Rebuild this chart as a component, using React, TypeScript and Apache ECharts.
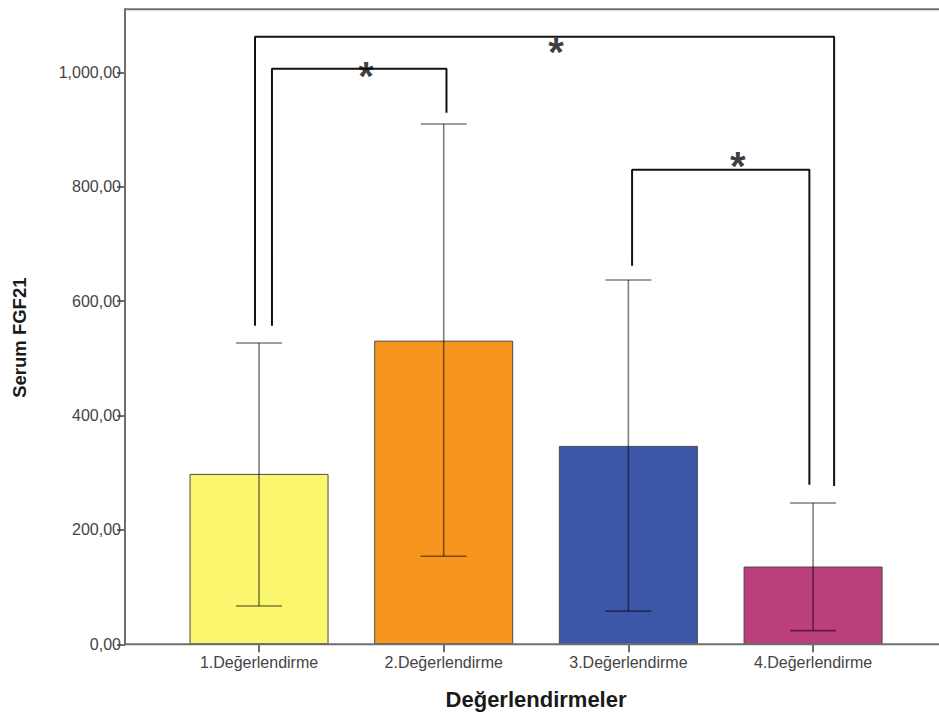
import React, { useEffect, useRef } from "react";
import * as echarts from "echarts";

const categories = ["1.Değerlendirme", "2.Değerlendirme", "3.Değerlendirme", "4.Değerlendirme"];
const means = [298, 531, 347, 136];
const errLow = [67, 154, 58, 24];
const errHigh = [527, 910, 637, 247];
const barColors = ["#FAF76E", "#F7961F", "#3C57A8", "#BB3F7A"];
const yMax = 1111;
const yInterval = 200;

// significance brackets: [x (category index units), y (value)]
const bracketOuter = [[-0.022, 557], [-0.022, 1062.6], [3.114, 1062.6], [3.114, 277]];
const bracket12 = [[0.07, 557], [0.07, 1006.6], [1.015, 1006.6], [1.015, 929.6]];
const bracket34 = [[2.02, 662], [2.02, 829.8], [2.98, 829.8], [2.98, 279]];
const stars = [[0.579, 1008], [1.608, 1050], [2.593, 851]];

const fmtY = (v: number) => {
  const s = v.toFixed(2).replace(".", ",");
  const [int, dec] = s.split(",");
  const withSep = int.replace(/\B(?=(\d{3})+(?!\d))/g, ",");
  return withSep + "," + dec;
};

export default function App() {
  const ref = useRef<HTMLDivElement>(null);
  useEffect(() => {
    if (!ref.current) return;
    const chart = echarts.init(ref.current, null, { renderer: "svg" });
    const font = "Liberation Sans, Arial, sans-serif";
    const axisColor = "#6e6e6e";
    const bracketStyle = { color: "#111", width: 2 };
    const mkBracket = (d: number[][]) => ({
      type: "line",
      xAxisIndex: 1,
      yAxisIndex: 0,
      data: d,
      symbol: "none",
      lineStyle: bracketStyle,
      silent: true,
      z: 5,
    });
    chart.setOption({
      animation: false,
      backgroundColor: "#ffffff",
      grid: { left: 166.7, width: 738.7, top: 9, bottom: 72.7, containLabel: false },
      graphic: [
        { type: "line", shape: { x1: 125, y1: 9.3, x2: 939, y2: 9.3 }, style: { stroke: axisColor, lineWidth: 2 }, z: 10 },
        { type: "line", shape: { x1: 125, y1: 644.3, x2: 939, y2: 644.3 }, style: { stroke: axisColor, lineWidth: 2 }, z: 10 },
      ],
      xAxis: [
        {
          type: "category",
          data: categories,
          axisLine: { show: false, onZero: false },
          axisTick: { show: true, alignWithLabel: true, length: 8, lineStyle: { color: axisColor, width: 2 } },
          axisLabel: { color: "#444", fontSize: 16, fontFamily: font, margin: 10 },
          name: "Değerlendirmeler",
          nameLocation: "middle",
          nameGap: 44,
          nameTextStyle: { color: "#1a1a1a", fontSize: 22, fontWeight: "bold", fontFamily: font },
        },
        { type: "value", min: -0.5, max: 3.5, show: false },
      ],
      yAxis: {
        type: "value",
        min: 0,
        max: yMax,
        interval: yInterval,
        offset: 41.7,
        splitLine: { show: false },
        axisLine: { show: true, onZero: false, lineStyle: { color: axisColor, width: 2 } },
        axisTick: { show: true, length: 8, lineStyle: { color: axisColor, width: 2 } },
        axisLabel: { color: "#444", fontSize: 16, fontFamily: font, margin: 4, formatter: fmtY, showMaxLabel: false },
        name: "Serum FGF21",
        nameLocation: "middle",
        nameGap: 96,
        nameTextStyle: { color: "#1a1a1a", fontSize: 18.5, fontWeight: "bold", fontFamily: font, padding: [0, 22, 0, 0] },
      },
      series: [
        {
          type: "bar",
          barWidth: 139,
          data: means.map((v, i) => ({ value: v, itemStyle: { color: barColors[i], borderColor: "#4a4a4a", borderWidth: 1 } })),
          z: 2,
        },
        {
          type: "custom",
          data: categories.map((_, i) => [i, errLow[i], errHigh[i]]),
          encode: { x: 0, y: [1, 2] },
          z: 3,
          renderItem: (params: any, api: any) => {
            const x = api.value(0);
            const pLo = api.coord([x, api.value(1)]);
            const pHi = api.coord([x, api.value(2)]);
            const hw = 23;
            const style = { stroke: "rgba(0,0,0,0.5)", lineWidth: 1.6 };
            return {
              type: "group",
              children: [
                { type: "line", shape: { x1: pHi[0], y1: pHi[1], x2: pLo[0], y2: pLo[1] }, style },
                { type: "line", shape: { x1: pHi[0] - hw, y1: pHi[1], x2: pHi[0] + hw, y2: pHi[1] }, style },
                { type: "line", shape: { x1: pLo[0] - hw, y1: pLo[1], x2: pLo[0] + hw, y2: pLo[1] }, style },
              ],
            };
          },
        },
        mkBracket(bracketOuter),
        mkBracket(bracket12),
        mkBracket(bracket34),
        {
          type: "scatter",
          xAxisIndex: 1,
          yAxisIndex: 0,
          data: stars,
          symbolSize: 1,
          itemStyle: { color: "rgba(0,0,0,0)" },
          silent: true,
          z: 6,
          label: {
            show: true,
            position: "inside",
            formatter: "*",
            color: "#0a0a0a",
            fontSize: 40,
            fontWeight: "bold",
            fontFamily: font,
            offset: [0, 8],
          },
        },
      ],
    });
    return () => chart.dispose();
  }, []);
  return <div ref={ref} style={{ position: "fixed", left: 0, top: 0, width: 939, height: 717, background: "#fff" }} />;
}
